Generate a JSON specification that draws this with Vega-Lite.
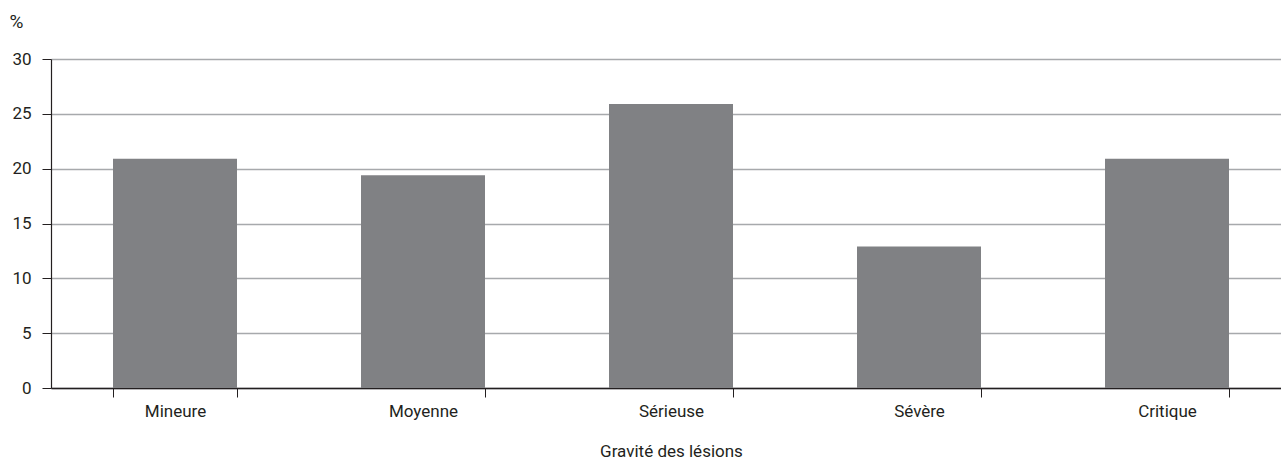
{
  "$schema": "https://vega.github.io/schema/vega-lite/v6.json",
  "autosize": {"type": "none"},
  "padding": {"left": 51, "top": 59, "right": 0, "bottom": 72},
  "width": 1240,
  "height": 329,
  "background": "white",
  "config": {
    "view": {"stroke": null},
    "font": "Roboto"
  },
  "data": {"values": [
    {"gravite": "Mineure", "pct": 20.9},
    {"gravite": "Moyenne", "pct": 19.4},
    {"gravite": "Sérieuse", "pct": 25.9},
    {"gravite": "Sévère", "pct": 12.9},
    {"gravite": "Critique", "pct": 20.9}
  ]},
  "mark": {"type": "bar", "color": "#808184"},
  "encoding": {
    "x": {
      "field": "gravite", "type": "nominal", "sort": null,
      "scale": {"paddingInner": 0.5, "paddingOuter": 0.25},
      "axis": {
        "title": "Gravité des lésions", "labelAngle": 0,
        "labelFont": "Roboto", "labelFontSize": 17, "labelColor": "#231f20",
        "labelPadding": 6,
        "titleFont": "Roboto", "titleFontSize": 17, "titleFontWeight": "normal", "titleColor": "#231f20",
        "titlePadding": 24,
        "domainColor": "#231f20", "domainWidth": 1.5,
        "tickColor": "#231f20", "tickSize": 9, "tickWidth": 1, "tickBand": "extent",
        "grid": false
      }
    },
    "y": {
      "field": "pct", "type": "quantitative",
      "scale": {"domain": [0, 30]},
      "axis": {
        "title": "%", "titleAngle": 0, "titleX": -42, "titleY": -38,
        "titleAlign": "left", "titleBaseline": "middle",
        "titleFont": "Roboto", "titleFontSize": 19, "titleFontWeight": "normal", "titleColor": "#231f20",
        "values": [0, 5, 10, 15, 20, 25, 30],
        "labelFont": "Roboto", "labelFontSize": 17, "labelColor": "#231f20",
        "labelPadding": 11,
        "domainColor": "#231f20", "domainWidth": 1.2,
        "tickColor": "#231f20", "tickSize": 9, "tickWidth": 1,
        "grid": true, "gridColor": "#a7a9ac", "gridWidth": 1.5
      }
    }
  }
}
